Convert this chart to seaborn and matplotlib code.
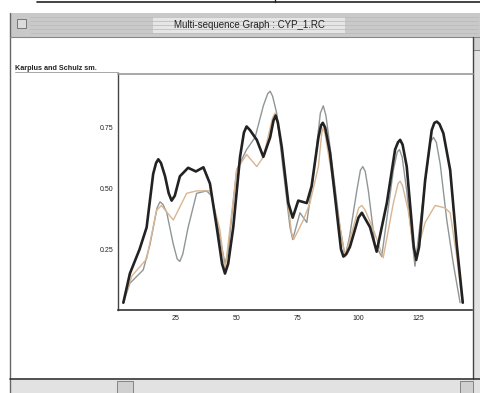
import matplotlib
matplotlib.use("Agg")
import matplotlib.pyplot as plt
import matplotlib.patches as mpatches
from matplotlib.lines import Line2D
import pandas as pd
import seaborn as sns

# values (residue number, flexibility)
black_x = [3.3, 6, 10, 12.9, 15.6, 16.8, 17.7, 18.8, 20.5, 22, 23.2, 24.5, 26.6, 30, 33.2, 36.3,
           39, 41.8, 44, 45.2, 46.5, 48.6, 51.4, 53, 54.1, 55.5, 58.3, 61, 63.8, 65.2, 66.1, 67,
           68.6, 71.3, 73.1, 75.4, 78.9, 80.9, 83.7, 84.8, 85.5, 86.5, 88.5, 91.3, 93, 94, 95.2,
           96.7, 100.2, 101.6, 105, 107.7, 111.9, 115.3, 116.5, 117.4, 118.4, 120.1, 123, 124,
           125.2, 127.7, 130.4, 131.5, 132.5, 133.6, 135.2, 138, 140.7, 143.2]
black_y = [0.03, 0.15, 0.25, 0.34, 0.56, 0.605, 0.62, 0.605, 0.55, 0.48, 0.45, 0.47, 0.55, 0.585,
           0.57, 0.587, 0.52, 0.34, 0.19, 0.15, 0.19, 0.34, 0.63, 0.73, 0.755, 0.74, 0.70, 0.63,
           0.71, 0.78, 0.80, 0.77, 0.67, 0.44, 0.38, 0.45, 0.44, 0.51, 0.71, 0.76, 0.77, 0.75,
           0.645, 0.40, 0.25, 0.22, 0.23, 0.26, 0.38, 0.40, 0.34, 0.24, 0.44, 0.66, 0.69, 0.70,
           0.68, 0.59, 0.26, 0.206, 0.26, 0.535, 0.74, 0.77, 0.775, 0.765, 0.727, 0.576, 0.27, 0.03]

gray_x = [3.3, 6, 11.5, 14.3, 17.2, 18.4, 19.6, 21.2, 23.9, 25.5, 26.6, 27.8, 30, 33.5, 37.6,
          39.7, 43.1, 45.2, 46.5, 50, 54.1, 57.6, 61, 62.8, 63.8, 64.8, 66.5, 69.2, 72, 73.1,
          76.1, 78.9, 81.6, 84.5, 85.7, 86.8, 88.5, 92.6, 94.7, 96.5, 99.5, 101, 102, 103,
          104.3, 107, 109.8, 114.6, 116.2, 117.1, 118.2, 120.1, 123.5, 127, 129.8, 131.1,
          132.3, 133.9, 136.6, 139.3, 142.1]
gray_y = [0.03, 0.11, 0.165, 0.27, 0.42, 0.445, 0.435, 0.40, 0.27, 0.21, 0.20, 0.23, 0.34, 0.48,
          0.49, 0.47, 0.30, 0.19, 0.24, 0.576, 0.66, 0.71, 0.84, 0.89, 0.90, 0.88, 0.81, 0.576,
          0.34, 0.29, 0.40, 0.36, 0.55, 0.81, 0.84, 0.80, 0.67, 0.34, 0.22, 0.30, 0.49, 0.575,
          0.59, 0.57, 0.49, 0.27, 0.22, 0.576, 0.65, 0.66, 0.63, 0.49, 0.18, 0.47, 0.69, 0.71,
          0.69, 0.60, 0.37, 0.19, 0.03]

tan_x = [3.3, 6.8, 12.9, 17, 19, 23.9, 29.4, 33.5, 39, 43.1, 45.2, 50, 54.1, 58.3, 61,
         64.8, 65.8, 66.8, 69.2, 72.6, 73.5, 77.5, 80.2, 83.7, 85.1, 85.7, 86.5, 89, 92.6,
         94.7, 100.3, 101.6, 103, 106.4, 110.4, 114.6, 116.5, 117.4, 118.4, 120.7, 123.5,
         127.7, 131.8, 135.9, 138, 140.7, 143]
tan_y = [0.03, 0.14, 0.21, 0.41, 0.43, 0.37, 0.48, 0.49, 0.49, 0.33, 0.16, 0.576, 0.64, 0.59,
         0.63, 0.79, 0.81, 0.78, 0.61, 0.32, 0.29, 0.37, 0.44, 0.59, 0.73, 0.75, 0.72, 0.57,
         0.34, 0.22, 0.42, 0.43, 0.41, 0.33, 0.215, 0.44, 0.52, 0.53, 0.51, 0.41, 0.21, 0.36,
         0.43, 0.42, 0.40, 0.22, 0.03]

x_ticks = [25, 50, 75, 100, 125]
y_ticks = [0.25, 0.5, 0.75]
y_ticklabels = ["0.25", "0.50", "0.75"]

title = "Multi-sequence Graph : CYP_1.RC"
ylabel = "Karplus and Schulz sm."

sns.set_style("white")
plt.rcParams["font.family"] = ["Liberation Sans", "DejaVu Sans"]

W, H = 480, 393
fig = plt.figure(figsize=(W / 100, H / 100), dpi=100)


def fx(px):
    return px / W


def fy(py):
    return 1 - py / H


def fline(x0, y0, x1, y1, color="#333333", lw=1.0):
    fig.add_artist(Line2D([fx(x0), fx(x1)], [fy(y0), fy(y1)], color=color, lw=lw,
                          transform=fig.transFigure))


def frect(x0, y0, x1, y1, fc, ec="none", lw=0.8):
    fig.add_artist(mpatches.Rectangle((fx(x0), fy(y1)), fx(x1) - fx(x0), fy(y0) - fy(y1),
                                      facecolor=fc, edgecolor=ec, lw=lw,
                                      transform=fig.transFigure))


# window chrome
fline(37, 1.5, 480, 1.5, color="#222222", lw=1.2)
fline(275, 0, 275, 1.5, color="#222222", lw=1.0)
frect(10, 13, 480, 37, fc="#c9c9c9")
for yy in [17, 21, 25, 29, 33]:
    fline(30, yy, 478, yy, color="#b8b8b8", lw=0.5)
frect(153, 17, 345, 33, fc="#e6e6e6")
frect(17, 19, 26, 28, fc="#dcdcdc", ec="#777777", lw=0.7)
fig.text(fx(249), fy(25), title, ha="center", va="center", fontsize=7, color="#222222")
fline(10, 13, 10, 393, color="#666666", lw=1.0)
fline(10, 37, 480, 37, color="#888888", lw=0.8)
frect(473, 37, 480, 379, fc="#e2e2e2")
fline(473, 37, 473, 379, color="#444444", lw=1.0)
frect(473, 37, 480, 50, fc="#d0d0d0", ec="#777777", lw=0.6)
fline(10, 379, 480, 379, color="#333333", lw=1.2)
frect(11, 380, 480, 393, fc="#e2e2e2")
frect(117, 381, 133, 393, fc="#d0d0d0", ec="#777777", lw=0.6)
frect(460, 381, 473, 393, fc="#d0d0d0", ec="#777777", lw=0.6)

fig.text(fx(15), fy(68), ylabel, ha="left", va="center", fontsize=5.2,
         fontweight="bold", color="#222222")
fline(15, 72, 118, 72, color="#999999", lw=0.6)

# plot area
ax = fig.add_axes([fx(118), fy(310), fx(472) - fx(118), fy(73) - fy(310)])

df = pd.concat([
    pd.DataFrame({"residue": gray_x, "value": gray_y, "seq": "seq2"}),
    pd.DataFrame({"residue": tan_x, "value": tan_y, "seq": "seq3"}),
    pd.DataFrame({"residue": black_x, "value": black_y, "seq": "seq1"}),
])
palette = {"seq1": "#222222", "seq2": "#8f9696", "seq3": "#d9b592"}
sizes = {"seq1": 1.9, "seq2": 1.0, "seq3": 1.0}
sns.lineplot(data=df, x="residue", y="value", hue="seq", size="seq", sizes=sizes,
             palette=palette, sort=False, estimator=None, legend=False, ax=ax)
for line in ax.lines:
    line.set_solid_joinstyle("round")
    line.set_solid_capstyle("round")

ax.set_xlim(1.1, 147)
ax.set_ylim(0, 0.975)
ax.set_xticks(x_ticks)
ax.set_xticklabels([str(t) for t in x_ticks])
ax.set_yticks(y_ticks)
ax.set_yticklabels(y_ticklabels)
ax.tick_params(axis="both", labelsize=5, colors="#222222", length=3, width=0.8,
               direction="inout", pad=2)
ax.set_xlabel("")
ax.set_ylabel("")
for side in ["top", "right"]:
    ax.spines[side].set_visible(False)
ax.spines["left"].set_color("#444444")
ax.spines["bottom"].set_color("#333333")
ax.spines["left"].set_linewidth(1.0)
ax.spines["bottom"].set_linewidth(1.2)
fline(118, 73.5, 473, 73.5, color="#999999", lw=1.2)

fig.savefig("out.png", dpi=100)
